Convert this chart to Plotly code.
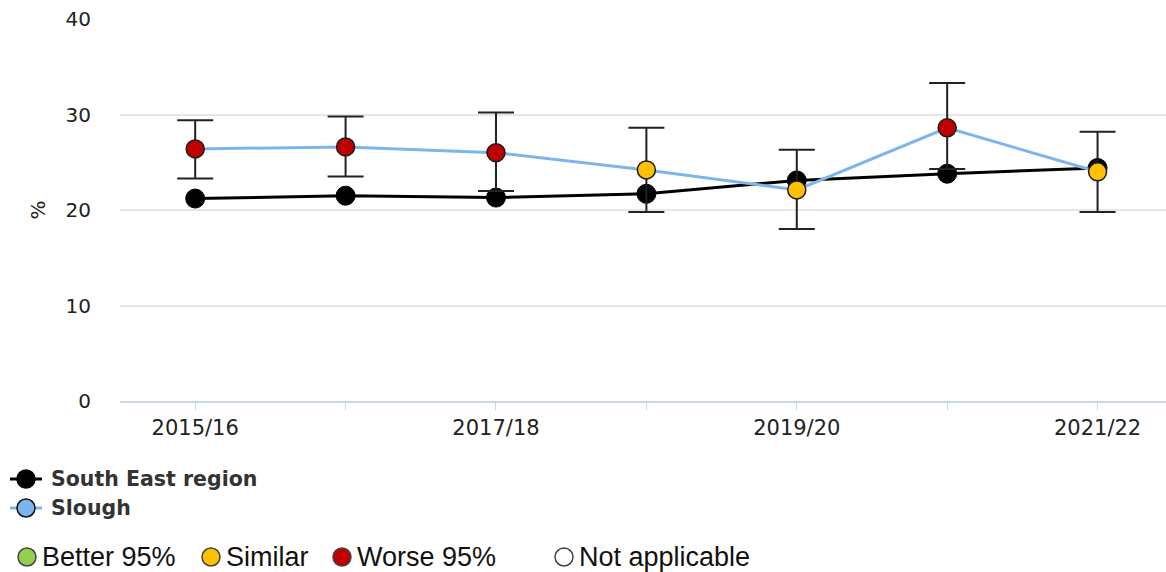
import plotly.graph_objects as go

# ---------------- data ----------------
years = ["2015/16", "2016/17", "2017/18", "2018/19", "2019/20", "2020/21", "2021/22"]
south_east = [21.2, 21.5, 21.3, 21.7, 23.1, 23.8, 24.4]
slough = [26.4, 26.6, 26.0, 24.2, 22.1, 28.6, 24.0]
slough_upper = [29.4, 29.8, 30.2, 28.6, 26.3, 33.3, 28.2]
slough_lower = [23.3, 23.5, 22.0, 19.8, 18.0, 24.3, 19.8]
slough_status = ["Worse 95%", "Worse 95%", "Worse 95%", "Similar", "Similar", "Worse 95%", "Similar"]

status_names = ["Better 95%", "Similar", "Worse 95%", "Not applicable"]
status_colors = {"Better 95%": "#92d050", "Similar": "#ffc000",
                 "Worse 95%": "#c00000", "Not applicable": "#ffffff"}

y_ticks = [0, 10, 20, 30, 40]
x_labels = [y if i % 2 == 0 else "" for i, y in enumerate(years)]

# ---------------- layout geometry ----------------
W, H = 1166, 572
ML, MR, MT, MB = 120, 0, 19, 171
PW, PH = W - ML - MR, H - MT - MB


def px(x):
    return (x - ML) / PW


def py(y):
    return (H - MB - y) / PH


fig = go.Figure()

fig.add_trace(go.Scatter(
    x=years, y=south_east, mode="lines+markers", name="South East region",
    line=dict(color="#000000", width=3),
    marker=dict(color="#000000", size=19, line=dict(color="#000000", width=1)),
    showlegend=False,
))

fig.add_trace(go.Scatter(
    x=years, y=slough, mode="lines+markers", name="Slough",
    line=dict(color="#7cb5ec", width=3),
    marker=dict(color=[status_colors[s] for s in slough_status], size=18,
                line=dict(color="#1a1a1a", width=1.5)),
    error_y=dict(type="data", symmetric=False,
                 array=[u - v for u, v in zip(slough_upper, slough)],
                 arrayminus=[v - l for v, l in zip(slough, slough_lower)],
                 color="#222222", thickness=2, width=18),
    showlegend=False,
))

shapes = []
annotations = []

# series legend
legend_rows = [("South East region", "#000000", "#000000", "#000000", 479),
               ("Slough", "#7cb5ec", "#7cb5ec", "#111111", 508)]
for name, lc, fc, oc, yy in legend_rows:
    shapes.append(dict(type="line", xref="paper", yref="paper",
                       x0=px(10), x1=px(42), y0=py(yy), y1=py(yy),
                       line=dict(color=lc, width=3)))
    shapes.append(dict(type="circle", xref="paper", yref="paper",
                       xsizemode="pixel", ysizemode="pixel",
                       xanchor=px(26), yanchor=py(yy),
                       x0=-9, x1=9, y0=-9, y1=9,
                       fillcolor=fc, line=dict(color=oc, width=1.5)))
    annotations.append(dict(xref="paper", yref="paper", x=px(49), y=py(yy),
                            xanchor="left", yanchor="middle", showarrow=False,
                            text="<b>" + name + "</b>",
                            font=dict(family="DejaVu Sans", size=20.5, color="#333333")))

# status legend
status_pos = [(27, 40), (211, 224), (342, 355), (564, 577)]
for name, (cx, tx) in zip(status_names, status_pos):
    shapes.append(dict(type="circle", xref="paper", yref="paper",
                       xsizemode="pixel", ysizemode="pixel",
                       xanchor=px(cx), yanchor=py(557),
                       x0=-9, x1=9, y0=-9, y1=9,
                       fillcolor=status_colors[name], line=dict(color="#444444", width=1.5)))
    annotations.append(dict(xref="paper", yref="paper", x=px(tx), y=py(557),
                            xanchor="left", yanchor="middle", showarrow=False,
                            text=name,
                            font=dict(family="Liberation Sans", size=27, color="#111111")))

fig.update_layout(
    width=W, height=H,
    margin=dict(l=ML, r=MR, t=MT, b=MB, pad=0),
    paper_bgcolor="#ffffff", plot_bgcolor="#ffffff",
    showlegend=False,
    shapes=shapes, annotations=annotations,
    font=dict(family="DejaVu Sans", size=20, color="#333333"),
)

fig.update_xaxes(
    type="category", range=[-0.5, 6.455],
    tickmode="array", tickvals=years, ticktext=x_labels,
    ticks="outside", ticklen=7, tickcolor="#ccd6eb", tickwidth=1,
    showline=True, linecolor="#ccd6eb", linewidth=2,
    showgrid=False, zeroline=False,
    tickfont=dict(family="DejaVu Sans", size=21, color="#222222"),
    ticklabelstandoff=0,
)

fig.update_yaxes(
    range=[0, 40], tickvals=y_ticks,
    showgrid=True, gridcolor="#e6e6e6", gridwidth=2,
    zeroline=False, showline=False,
    tickfont=dict(family="DejaVu Sans", size=20, color="#222222"),
    ticklabelstandoff=28,
    title=dict(text="%", font=dict(family="DejaVu Sans", size=20, color="#222222"), standoff=14),
)

fig.write_html(
    "out.html",
    config={"displayModeBar": False},
    post_script="document.body.style.margin='0';document.body.style.overflow='hidden';",
)
